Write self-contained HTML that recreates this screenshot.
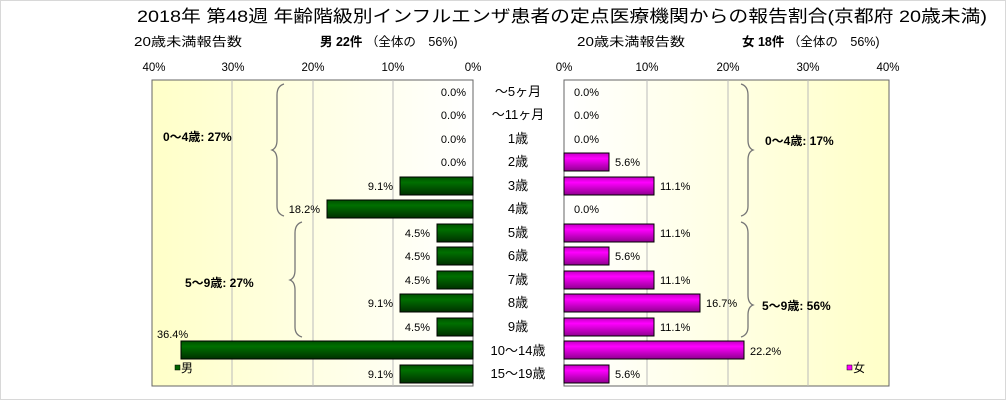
<!DOCTYPE html>
<html><head><meta charset="utf-8"><style>
html,body{margin:0;padding:0;background:#fff}
svg{display:block}
text{font-family:"Liberation Sans","Noto Sans CJK JP",sans-serif}
</style></head><body>
<svg width="1006" height="400" viewBox="0 0 1006 400" xmlns="http://www.w3.org/2000/svg">
<defs>
<linearGradient id="bgL" x1="0" x2="1" y1="0" y2="0"><stop offset="0" stop-color="#ffffc8"/><stop offset="1" stop-color="#ffffff"/></linearGradient>
<linearGradient id="bgR" x1="0" x2="1" y1="0" y2="0"><stop offset="0" stop-color="#ffffff"/><stop offset="1" stop-color="#ffffc8"/></linearGradient>
<linearGradient id="gG" x1="0" x2="0" y1="0" y2="1"><stop offset="0" stop-color="#005000"/><stop offset="0.3" stop-color="#007000"/><stop offset="1" stop-color="#003000"/></linearGradient>
<linearGradient id="gM" x1="0" x2="0" y1="0" y2="1"><stop offset="0" stop-color="#c000c0"/><stop offset="0.3" stop-color="#ff00ff"/><stop offset="1" stop-color="#900090"/></linearGradient>
</defs>
<rect x="0.5" y="0.5" width="1005" height="399" fill="#fff" stroke="#d8d8d8"/>
<text x="137" y="22" font-size="17" textLength="850" lengthAdjust="spacingAndGlyphs" fill="#000">2018年 第48週 年齢階級別インフルエンザ患者の定点医療機関からの報告割合(京都府 20歳未満)</text>
<text x="134" y="46" font-size="12.5" textLength="108" lengthAdjust="spacingAndGlyphs">20歳未満報告数</text>
<text x="320" y="46" font-size="12.5"><tspan font-weight="bold">男 22件</tspan> （全体の　56%)</text>
<text x="577" y="46" font-size="12.5" textLength="108" lengthAdjust="spacingAndGlyphs">20歳未満報告数</text>
<text x="742" y="46" font-size="12.5"><tspan font-weight="bold">女 18件</tspan> （全体の　56%)</text>
<g font-size="11.5" text-anchor="middle">
<text x="154" y="71">40%</text><text x="233" y="71">30%</text><text x="313" y="71">20%</text><text x="393" y="71">10%</text><text x="473" y="71">0%</text>
<text x="564" y="71">0%</text><text x="647" y="71">10%</text><text x="728" y="71">20%</text><text x="808" y="71">30%</text><text x="888" y="71">40%</text>
</g>
<rect x="152" y="80" width="321" height="306" fill="url(#bgL)" stroke="#666"/>
<rect x="564" y="80" width="325" height="306" fill="url(#bgR)" stroke="#666"/>
<g stroke="#bbb">
<line x1="232" y1="80" x2="232" y2="386"/><line x1="313" y1="80" x2="313" y2="386"/><line x1="393" y1="80" x2="393" y2="386"/>
<line x1="647" y1="80" x2="647" y2="386"/><line x1="728" y1="80" x2="728" y2="386"/><line x1="808" y1="80" x2="808" y2="386"/>
</g>
<g fill="none" stroke="#777" stroke-width="1.3">
<path d="M284 84 Q277 86 277 95 L277 140 Q277 148 272 150 Q277 152 277 160 L277 206 Q277 214 284 216"/>
<path d="M302 222 Q295 224 295 233 L295 270 Q295 278 290 280 Q295 282 295 290 L295 327 Q295 335 302 337"/>
<path d="M741 84 Q748 86 748 95 L748 140 Q748 148 753 150 Q748 152 748 160 L748 206 Q748 214 741 216"/>
<path d="M741 222 Q748 224 748 233 L748 295 Q748 303 753 305 Q748 307 748 315 L748 327 Q748 335 741 337"/>
</g>
<g font-size="12" font-weight="bold">
<text x="163" y="141">0～4歳: 27%</text>
<text x="185" y="287">5～9歳: 27%</text>
<text x="765" y="145">0～4歳: 17%</text>
<text x="762" y="310">5～9歳: 56%</text>
</g>
<g stroke="#000" stroke-width="1" fill="url(#gG)">
<rect x="400" y="177" width="73" height="18"/>
<rect x="327" y="200" width="146" height="18"/>
<rect x="437" y="224" width="36" height="18"/>
<rect x="437" y="247" width="36" height="18"/>
<rect x="437" y="271" width="36" height="18"/>
<rect x="400" y="294" width="73" height="18"/>
<rect x="437" y="318" width="36" height="18"/>
<rect x="181" y="341" width="292" height="18"/>
<rect x="400" y="365" width="73" height="18"/>
</g>
<g stroke="#000" stroke-width="1" fill="url(#gM)">
<rect x="564" y="153" width="45" height="18"/>
<rect x="564" y="177" width="90" height="18"/>
<rect x="564" y="224" width="90" height="18"/>
<rect x="564" y="247" width="45" height="18"/>
<rect x="564" y="271" width="90" height="18"/>
<rect x="564" y="294" width="136" height="18"/>
<rect x="564" y="318" width="90" height="18"/>
<rect x="564" y="341" width="180" height="18"/>
<rect x="564" y="365" width="45" height="18"/>
</g>
<g font-size="11" text-anchor="end">
<text x="466" y="96">0.0%</text><text x="466" y="119">0.0%</text><text x="466" y="143">0.0%</text><text x="466" y="166">0.0%</text>
<text x="393" y="190">9.1%</text><text x="320" y="213">18.2%</text>
<text x="430" y="237">4.5%</text><text x="430" y="260">4.5%</text><text x="430" y="284">4.5%</text>
<text x="393" y="307">9.1%</text><text x="430" y="331">4.5%</text>
<text x="393" y="378">9.1%</text>
</g>
<text x="157" y="338" font-size="11">36.4%</text>
<g font-size="11">
<text x="574" y="96">0.0%</text><text x="574" y="119">0.0%</text><text x="574" y="143">0.0%</text>
<text x="615" y="166">5.6%</text><text x="660" y="190">11.1%</text><text x="574" y="213">0.0%</text>
<text x="660" y="237">11.1%</text><text x="615" y="260">5.6%</text><text x="660" y="284">11.1%</text>
<text x="706" y="307">16.7%</text><text x="660" y="331">11.1%</text><text x="750" y="355">22.2%</text>
<text x="615" y="378">5.6%</text>
</g>
<g font-size="13" text-anchor="middle">
<text x="518" y="96">～5ヶ月</text><text x="518" y="119">～11ヶ月</text><text x="518" y="143">1歳</text><text x="518" y="166">2歳</text>
<text x="518" y="190">3歳</text><text x="518" y="213">4歳</text><text x="518" y="237">5歳</text><text x="518" y="260">6歳</text>
<text x="518" y="284">7歳</text><text x="518" y="307">8歳</text><text x="518" y="331">9歳</text><text x="518" y="355">10～14歳</text>
<text x="518" y="378">15～19歳</text>
</g>
<rect x="175" y="365" width="5" height="5" fill="#006400" stroke="#000" stroke-width="0.5"/>
<text x="181" y="372" font-size="12">男</text>
<rect x="847" y="365" width="5" height="5" fill="#ff00ff" stroke="#000" stroke-width="0.5"/>
<text x="853" y="372" font-size="12">女</text>
</svg>
</body></html>
